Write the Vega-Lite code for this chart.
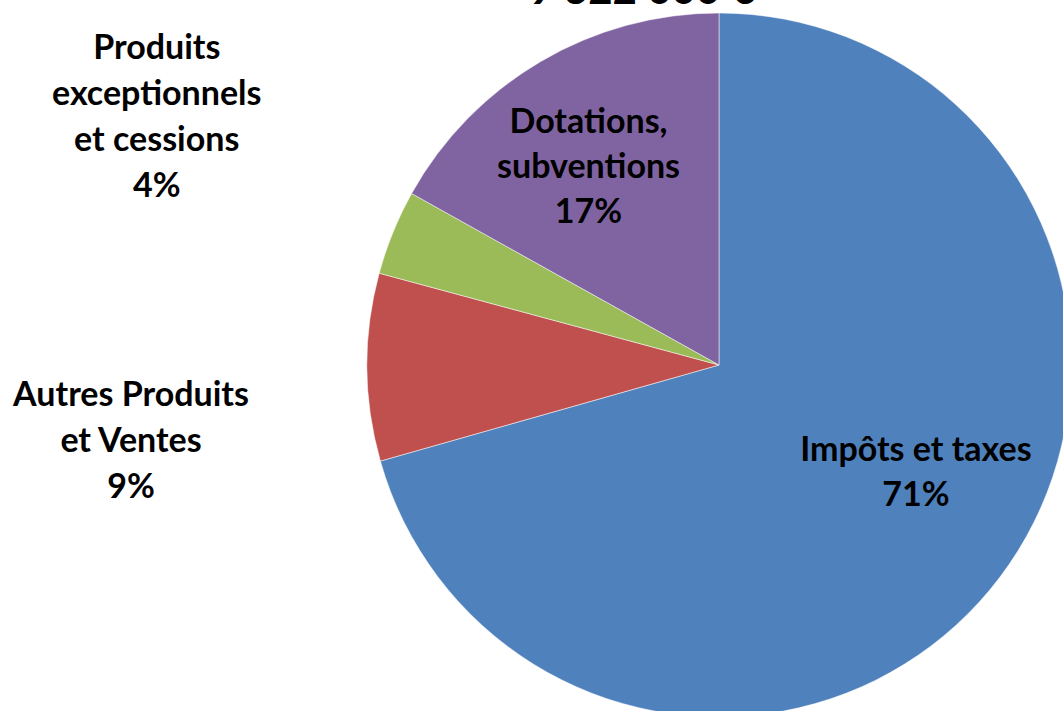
{
  "$schema": "https://vega.github.io/schema/vega-lite/v6.json",
  "autosize": {"type": "none"},
  "width": 700,
  "height": 700,
  "padding": {"left": 369, "top": 15, "right": 0, "bottom": 0},
  "background": "white",
  "data": {"values": [
    {"cat": "Impôts et taxes", "value": 70.6, "ord": 1, "label": "Impôts et taxes\n71%"},
    {"cat": "Autres Produits et Ventes", "value": 8.6, "ord": 2, "label": "Autres Produits\net Ventes\n9%"},
    {"cat": "Produits exceptionnels et cessions", "value": 3.9, "ord": 3, "label": "Produits\nexceptionnels\net cessions\n4%"},
    {"cat": "Dotations, subventions", "value": 16.9, "ord": 4, "label": "Dotations,\nsubventions\n17%"}
  ]},
  "encoding": {
    "theta": {"field": "value", "type": "quantitative", "stack": true},
    "order": {"field": "ord", "type": "ordinal"}
  },
  "layer": [
    {
      "mark": {"type": "arc", "radius": 352, "stroke": "white", "strokeWidth": 0.5},
      "encoding": {
        "color": {"field": "cat", "type": "nominal", "legend": null,
          "scale": {"domain": ["Impôts et taxes", "Autres Produits et Ventes", "Produits exceptionnels et cessions", "Dotations, subventions"],
                    "range": ["#4F81BD", "#C0504D", "#9BBB59", "#8064A2"]}}
      }
    },
    {
      "mark": {"type": "text", "radius": 223, "dx": 19, "dy": -48, "font": "Lato", "fontSize": 34, "fontWeight": "bold", "lineBreak": "\n", "lineHeight": 45, "align": "center", "baseline": "middle", "color": "black"},
      "encoding": {"text": {"condition": {"test": "datum.ord == 1", "field": "label"}, "value": ""}}
    },
    {
      "mark": {"type": "text", "radius": 588, "dx": 0, "dy": 27, "font": "Lato", "fontSize": 34, "fontWeight": "bold", "lineBreak": "\n", "lineHeight": 46, "align": "center", "baseline": "middle", "color": "black"},
      "encoding": {"text": {"condition": {"test": "datum.ord == 2", "field": "label"}, "value": ""}}
    },
    {
      "mark": {"type": "text", "radius": 607, "dx": 0, "dy": -87, "font": "Lato", "fontSize": 34, "fontWeight": "bold", "lineBreak": "\n", "lineHeight": 46, "align": "center", "baseline": "middle", "color": "black"},
      "encoding": {"text": {"condition": {"test": "datum.ord == 3", "field": "label"}, "value": ""}}
    },
    {
      "mark": {"type": "text", "radius": 232, "dx": -13, "dy": -42, "font": "Lato", "fontSize": 34, "fontWeight": "bold", "lineBreak": "\n", "lineHeight": 45, "align": "center", "baseline": "middle", "color": "black"},
      "encoding": {"text": {"condition": {"test": "datum.ord == 4", "field": "label"}, "value": ""}}
    },
    {
      "mark": {"type": "text", "radius": 152, "dx": 0, "dy": -230, "font": "Lato", "fontSize": 42, "fontWeight": "bold", "align": "center", "baseline": "alphabetic", "color": "black"},
      "encoding": {"text": {"condition": {"test": "datum.ord == 4", "value": "9 322 000 €"}, "value": ""}}
    }
  ]
}
